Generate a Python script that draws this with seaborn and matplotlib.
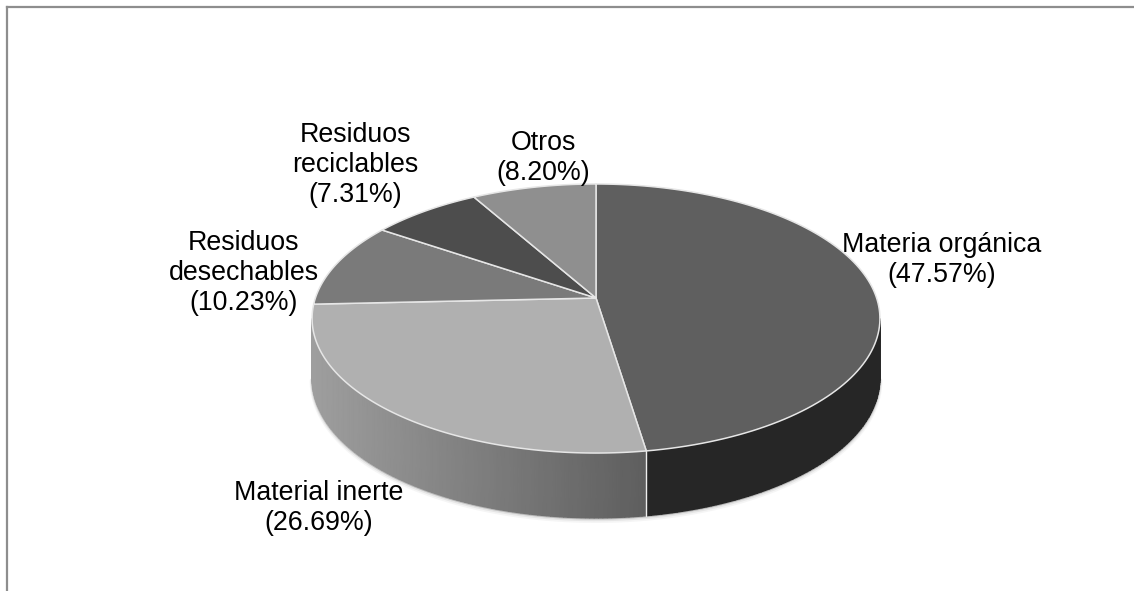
import numpy as np
import pandas as pd
import seaborn as sns
import matplotlib.pyplot as plt

labels = ["Materia orgánica", "Material inerte", "Residuos\ndesechables", "Residuos\nreciclables", "Otros"]
shares = [47.57, 26.69, 10.23, 7.31, 8.20]
top_colors = ["#5f5f5f", "#b0b0b0", "#7a7a7a", "#4d4d4d", "#8f8f8f"]
label_x = [941.5, 318.5, 244, 355, 543]
label_y = [259.5, 507.5, 272.5, 164.5, 158]

# perspective of the disc, in pixels
CX, CY = 596, 298
A, B, K = 280.6, 131.4, 0.1525
DEPTH = 59


def project(theta, depth=0.0):
    u, v = np.sin(theta), np.cos(theta)
    d = 1 + K * v
    drop = depth * (59 - 6 * v) / 59
    return CX + A * u / d, CY - B * v / d + drop


df = pd.DataFrame({"label": labels, "share": shares, "color": top_colors})
df["start"] = df["share"].cumsum().shift(fill_value=0) / df["share"].sum() * 2 * np.pi
df["end"] = df["share"].cumsum() / df["share"].sum() * 2 * np.pi

sns.set_theme(style="white")
plt.rcParams["font.family"] = ["Liberation Sans", "DejaVu Sans"]

fig = plt.figure(figsize=(11.34, 5.91), dpi=100)
ax = fig.add_axes([7 / 1134, 0, 1127 / 1134, 584 / 591])
ax.set_xlim(7, 1134)
ax.set_ylim(591, 7)
ax.set_xticks([])
ax.set_yticks([])
sns.despine(ax=ax, top=False, right=True, bottom=True)
for side in ["top", "left"]:
    ax.spines[side].set_color("#8e8e8e")
    ax.spines[side].set_linewidth(1.6)
    ax.spines[side].set_visible(True)

# wall, only the part facing the viewer
right_edge = np.arccos(-K)
left_edge = 2 * np.pi - right_edge
cut = df["end"][0]

# soft shadow under the wall
t = np.linspace(right_edge, left_edge, 200)
sx, sy = project(t, DEPTH)
for off, lw, alpha in [(2.5, 3.5, 0.10), (1.5, 2.5, 0.18), (0.5, 1.5, 0.6)]:
    ax.plot(sx, sy + off, color="#a0a0a0", lw=lw, alpha=alpha, zorder=1)

dark_t = np.linspace(right_edge, cut, 80)
x0, y0 = project(dark_t)
x1, y1 = project(dark_t, DEPTH)
ax.pcolormesh(np.array([x0, x1]), np.array([y0, y1]), np.full((2, 80), 0.15),
              cmap="gray", vmin=0, vmax=1, shading="gouraud", zorder=2)

light_t = np.linspace(cut, left_edge, 120)
x0, y0 = project(light_t)
x1, y1 = project(light_t, DEPTH)
shade = np.interp(x0, [x0.min(), x0.max()], [0.62, 0.37])
ax.pcolormesh(np.array([x0, x1]), np.array([y0, y1]), np.array([shade, shade]),
              cmap="gray", vmin=0, vmax=1, shading="gouraud", zorder=2)

xa, ya = project(np.array([cut]))
xb, yb = project(np.array([cut]), DEPTH)
ax.plot([xa[0], xb[0]], [ya[0], yb[0]], color="#eeeeee", lw=1, zorder=3)

# top face
for _, row in df.iterrows():
    t = np.linspace(row["start"], row["end"], 120)
    x, y = project(t)
    ax.fill(np.r_[CX, x], np.r_[CY, y], facecolor=row["color"], edgecolor="#e6e6e6",
            lw=1.1, joinstyle="round", zorder=4)

for name, share, lx, ly in zip(labels, shares, label_x, label_y):
    ax.text(lx, ly, f"{name}\n({share:.2f}%)", ha="center", va="center", fontsize=19.3,
            color="black", linespacing=1.2, zorder=5)

fig.savefig("out.png", dpi=100, facecolor="white")
plt.close()
